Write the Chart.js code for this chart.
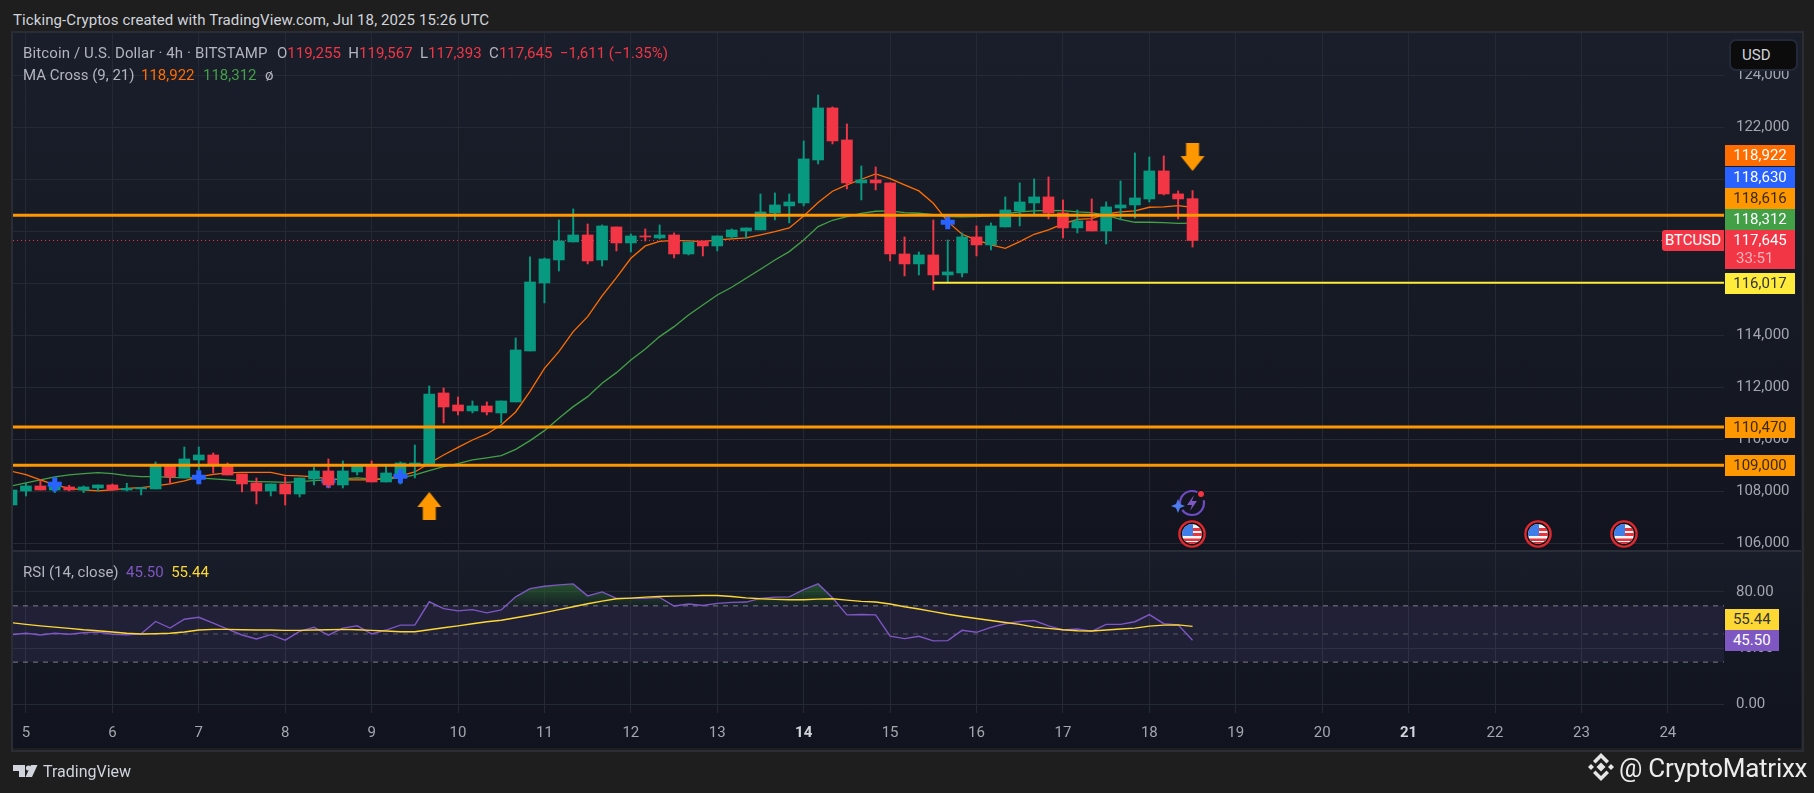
<!DOCTYPE html>
<html><head><meta charset="utf-8">
<script src="https://cdn.jsdelivr.net/npm/chart.js@4/dist/chart.umd.min.js"></script>
<style>
html,body{margin:0;padding:0;background:#1e1e1e;width:1814px;height:793px;overflow:hidden;font-family:Roboto,sans-serif}
#panel{position:absolute;left:11px;top:31px;width:1789px;height:717px;border:2px solid #2a2d35;box-sizing:content-box}
.pane{position:absolute;left:13px;width:1788px}
#pricePane{top:33px;height:518px;background:linear-gradient(#1a1e2a 0%,#171b26 40%,#12151f 100%)}
#rsiPane{top:551px;height:197px;background:linear-gradient(#191d29 0%,#141823 40%,#11141e 100%);border-top:0}
#sep{position:absolute;left:13px;top:550px;width:1788px;height:2px;background:#2a2e39}
canvas{position:absolute;left:0;top:0}
.t{position:absolute;white-space:pre;font-size:15px;line-height:20px;color:#b2b5be}
.r{color:#f23645}
.box{position:absolute;left:1725px;width:70px;height:21px;line-height:21px;font-size:15px;text-align:center;color:#fff}
#usd{position:absolute;left:1729px;top:39px;width:69px;height:32px;box-sizing:border-box;background:#0c0c0c;border:2px solid #23283a;border-radius:7px;color:#d1d4dc;font-size:15px;line-height:28px;padding-left:11px}
svg{position:absolute}
</style></head><body>
<div id="panel"></div>
<div class="pane" id="pricePane"><canvas id="priceChart" width="1788" height="518"></canvas></div>
<div class="pane" id="rsiPane"><canvas id="rsiChart" width="1788" height="197"></canvas></div>
<div id="sep"></div>

<div class="t" style="left:13px;top:10px;color:#d1d4dc;letter-spacing:.1px">Ticking-Cryptos created with TradingView.com, Jul 18, 2025 15:26 UTC</div>
<div class="t" style="left:23px;top:43px;letter-spacing:.12px">Bitcoin / U.S. Dollar · 4h · BITSTAMP</div>
<div class="t" style="left:277px;top:43px">O<span class="r">119,255</span>  H<span class="r">119,567</span>  L<span class="r">117,393</span>  C<span class="r">117,645</span>  <span class="r">−1,611 (−1.35%)</span></div>
<div class="t" style="left:23px;top:65px">MA Cross (9, 21)</div>
<div class="t" style="left:141px;top:65px;color:#ff6d00">118,922</div>
<div class="t" style="left:203px;top:65px;color:#43a047">118,312</div>
<div class="t" style="left:265px;top:65px">ø</div>
<div class="t" style="left:23px;top:562px">RSI (14, close)  <span style="color:#7e57c2">45.50</span>  <span style="color:#fdd835">55.44</span></div>

<div id="usd">USD</div>
<div class="box" style="top:145px;background:#ff6d00">118,922</div>
<div class="box" style="top:167px;background:#2962ff">118,630</div>
<div class="box" style="top:188px;background:#ff9800;color:#3a2a10">118,616</div>
<div class="box" style="top:209px;background:#43a047">118,312</div>
<div class="box" style="top:230px;height:39px;background:#f23645">117,645<div style="line-height:15px;color:#ffb3ba;font-size:15px;margin-top:0;text-align:left;padding-left:11px">33:51</div></div>
<div class="box" style="top:273px;background:#ffeb3b;color:#333">116,017</div>
<div class="box" style="top:417px;background:#ff9800;color:#3a2a10">110,470</div>
<div class="box" style="top:455px;background:#ff9800;color:#3a2a10">109,000</div>
<div class="box" style="left:1662px;top:230px;width:62px;background:#f23645;border-radius:3px 0 0 3px">BTCUSD</div>
<div class="box" style="top:609px;width:53.5px;background:#fdd835;color:#333">55.44</div>
<div class="box" style="top:630px;width:53.5px;background:#7e57c2">45.50</div>

<svg width="1814" height="793" style="left:0;top:0;pointer-events:none">
  <defs>
    <g id="flag">
      <circle r="12.6" fill="#0c0e14" stroke="#e0282e" stroke-width="2.4"/>
      <clipPath id="fc"><circle r="10"/></clipPath>
      <g clip-path="url(#fc)">
        <rect x="-10" y="-10" width="20" height="20" fill="#f5f5f5"/>
        <rect x="1" y="-6" width="10" height="3" fill="#e8323c"/>
        <rect x="1" y="-1" width="10" height="3" fill="#e8323c"/>
        <rect x="-10" y="4.500" width="20" height="2.500" fill="#e8323c"/>
        <rect x="-10" y="-10" width="11" height="12" fill="#3f7de8"/>
        <rect x="-10" y="8" width="20" height="2" fill="#d32f35"/>
      </g>
    </g>
  </defs>
  <use href="#flag" x="1192" y="534"/>
  <use href="#flag" x="1538" y="534"/>
  <use href="#flag" x="1624" y="534"/>
  <g transform="translate(1192,503)">
    <circle r="12" fill="none" stroke="#6f4bc4" stroke-width="2.2" stroke-dasharray="30 6"/>
    <path d="M2 -8 L-5 2 L0 2 L-2 8 L5 -2 L0 -2Z" fill="#7e57c2"/>
    <circle cx="9" cy="-9" r="3.6" fill="#f23645" stroke="#0c0e14" stroke-width="1"/>
    <path d="M-14 -4 L-12 1 L-7 3 L-12 5 L-14 10 L-16 5 L-21 3 L-16 1Z" fill="#4d7df0"/>
  </g>
  <g fill="#d1d4dc">
    <path d="M13 765h12v12h-6v-6h-6z"/>
    <circle cx="28.5" cy="768" r="2.6"/>
    <path d="M37.5 765l-5.5 12h-6.500l5.500-12z"/>
  </g>
  <g transform="translate(1601,767)" fill="#e6e6e6">
    <path d="M0 -4.500L4.500 0L0 4.500L-4.500 0Z"/>
    <path d="M-13 0L-10 -3L-7 0L-10 3Z"/><path d="M13 0L10 -3L7 0L10 3Z"/>
    <path d="M0 -14L8 -6L5.500 -3.500L0 -9L-5.500 -3.500L-8 -6Z"/>
    <path d="M0 14L8 6L5.500 3.500L0 9L-5.500 3.500L-8 6Z"/>
  </g>
</svg>
<div class="t" style="left:43px;top:762px;font-size:16px;color:#d1d4dc">TradingView</div>
<div class="t" style="left:1619px;top:752px;font-size:26px;line-height:32px;color:#ececec;letter-spacing:-.25px">@ CryptoMatrixx</div>

<script>
// candle times: every 4h, in day-of-month units
const candleDays=[4.833,5,5.167,5.333,5.5,5.667,5.833,6,6.167,6.333,6.5,6.667,6.833,7,7.167,7.333,7.5,7.667,7.833,8,8.167,8.333,8.5,8.667,8.833,9,9.167,9.333,9.5,9.667,9.833,10,10.167,10.333,10.5,10.667,10.833,11,11.167,11.333,11.5,11.667,11.833,12,12.167,12.333,12.5,12.667,12.833,13,13.167,13.333,13.5,13.667,13.833,14,14.167,14.333,14.5,14.667,14.833,15,15.167,15.333,15.5,15.667,15.833,16,16.167,16.333,16.5,16.667,16.833,17,17.167,17.333,17.5,17.667,17.833,18,18.167,18.333,18.5];
const opens=[107474,108013,108205,108051,108167,108051,108128,108244,108051,108090,108090,108974,108513,109205,109397,108974,108667,108320,108013,108282,107897,108474,108782,108244,108744,108960,108359,108550,108990,108990,111782,111320,111090,111282,111013,111436,113397,116013,116897,117590,117859,116897,118167,117551,117821,117744,117859,117128,117628,117436,117782,118013,118052,118706,118975,119090,120744,122744,121513,119860,119975,119860,117129,116744,117090,116321,116398,117783,117475,118167,118783,119090,119321,118706,118129,118398,118013,118898,119013,119244,120321,119437,119255];
const highs=[108060,108308,108462,108230,108231,108205,108244,108282,108308,108141,109128,108990,109705,109705,109474,109090,108667,108513,108282,108551,108513,108936,109244,109167,108990,109167,108960,109128,109782,112051,111974,111628,111474,111436,111474,113897,117013,116974,118436,118859,118282,118244,118167,117897,118090,118244,117936,117590,117628,117821,118090,118128,119436,119475,119436,121475,123244,122783,122129,120513,120475,119860,117783,117206,118437,117667,117937,118206,118321,119321,119860,120013,120090,119206,118821,119244,119129,119937,121013,120860,120898,119552,119567];
const lows=[107470,107820,108051,107949,108013,107949,108013,108051,108013,107859,108090,108282,108513,108820,108705,108628,107974,107513,107820,107474,107782,108244,108128,108128,108628,108359,108359,108282,108513,108990,110628,110936,111013,110936,110628,111436,113397,115244,116474,117590,116744,116667,117244,117205,117628,117705,116974,117090,117051,117244,117744,117744,118052,118436,118321,118975,120590,121360,119629,119206,119590,116860,116283,116321,115744,116052,116244,117052,117283,118167,118206,118667,118475,117744,117937,118013,117513,118437,118513,119129,119398,118475,117393];
const closes=[108051,108205,108051,108180,108051,108167,108244,108051,108115,108141,108990,108551,109244,109397,109038,108628,108282,108013,108282,107897,108513,108782,108244,108782,108960,108359,108705,109090,109090,111743,111243,111090,111282,111051,111474,113436,116051,116936,117628,117859,116859,118205,117551,117821,117782,117859,117128,117590,117436,117821,118051,118128,118744,119013,119129,120783,122744,121475,119860,119975,119860,117129,116744,117090,116321,116437,117783,117475,118206,118821,119129,119321,118706,118129,118398,118013,118937,119013,119283,120321,119437,119244,117645];
const maFast=[108769,108641,108436,108244,108115,108051,108013,108051,108115,108141,108205,108282,108397,108551,108654,108705,108731,108731,108731,108615,108590,108551,108474,108436,108436,108436,108487,108590,108744,109077,109397,109692,109974,110205,110551,111051,111846,112731,113372,114141,114718,115513,116218,116961,117436,117615,117654,117628,117602,117667,117705,117743,117860,117988,118129,118590,119103,119539,119783,120001,120206,120026,119783,119552,119078,118372,117885,117667,117475,117347,117603,117885,118052,118283,118462,118488,118667,118744,118783,118924,118937,118988,118922];
const maSlow=[108205,108321,108436,108551,108628,108679,108718,108679,108603,108564,108564,108538,108526,108513,108474,108436,108397,108372,108359,108346,108372,108410,108436,108474,108513,108474,108474,108513,108628,108795,108949,109064,109205,109282,109372,109615,109949,110333,110808,111256,111641,112154,112564,113051,113474,113949,114333,114782,115166,115551,115846,116192,116539,116898,117219,117667,118180,118424,118565,118693,118770,118783,118719,118693,118642,118565,118552,118565,118603,118667,118744,118783,118808,118795,118744,118719,118616,118462,118347,118347,118334,118308,118312];
const rsiValues=[49.5,50.5,49.3,50.5,49.8,50.9,51.4,49.8,49.5,50.2,58.9,54.2,60.5,61.9,57.7,53.5,49.3,46.5,49.5,45.6,51.9,54.7,49.1,54.2,55.8,50,52.8,56.3,56.3,72.9,68,66.4,67.3,65,67.1,76.4,82.3,83.9,84.9,85.6,77.1,79.9,75.3,75.3,75.3,76,69.9,71.3,70.3,71.8,72.5,72.7,75.3,76.2,76.4,81.6,85.6,75.7,63.6,63.8,63.6,48.4,46.7,48.4,45.1,45.3,52.6,51.2,54.7,57.3,58.9,59.6,55.8,52.8,53.5,51.9,56.8,56.8,58.7,63.8,57.3,56.5,45.5];
const rsiMa=[58,56.8,55.8,54.9,54,53,52.3,51.4,50.5,50,50.2,50.5,51.4,52.8,53.3,53.3,53,52.8,52.8,52.6,52.6,52.8,53,53.3,53,52.6,52.1,51.6,51.6,53,54.4,55.8,57.3,58.7,59.8,61.5,63.3,65.2,67.3,69.4,71.5,73.4,75,75.5,76.2,76.7,76.9,77.1,77.4,77.4,76.7,75.7,75,74.6,74.3,74.3,74.8,75,74.1,73.2,72.7,71.3,69.4,67.8,65.9,64,62.4,61,59.6,58.2,56.8,54.9,54,53,52.3,52.1,52.8,53.5,54.2,55.6,56.3,56.5,55.44];
const dayTicks=[5,6,7,8,9,10,11,12,13,14,15,16,17,18,19,20,21,22,23,24];
const boldDays=[14,21];
const priceTicks=[106000,108000,110000,112000,114000,116000,118000,120000,122000,124000];
const rsiTicks=[0,40,80];
const keyLevels=[109000,110470,118616];
const supportLevel=116017;
const lastPrice=117645;
const rsiBands=[30,50,70];
const crossUnder=[[8.5,108407]];
const crossOver=[[5.333,108269],[7,108538],[9.333,108577],[15.667,118346]];
const arrowUp=[[9.667,107435]];
const arrowDown=[[18.5,120857]];

const xMin=4.85,xMax=24.65,GREEN='#089981',RED='#f23645',GRID='#252934',TXT='#a3a6af';
Chart.defaults.font.family='Roboto, sans-serif';
const colors=closes.map((c,i)=>c>=opens[i]?GREEN:RED);
const span=(y,a=xMin,b=xMax)=>[{x:a,y},{x:b,y}];
const pt=a=>a.map(([x,y])=>({x,y}));
function arrowCanvas(up){
  const c=document.createElement('canvas');c.width=26;c.height=28;
  const g=c.getContext('2d');g.fillStyle='#ff9800';
  if(!up){g.translate(0,28);g.scale(1,-1);}
  g.beginPath();g.moveTo(13,0);g.lineTo(25,15);g.lineTo(19.5,15);g.lineTo(19.5,28);g.lineTo(6.5,28);g.lineTo(6.5,15);g.lineTo(1,15);g.closePath();g.fill();
  return c;
}
// pin the plot area: axes keep the requested thickness and add no label overhang
const pin=(s,prop,size)=>{s[prop]=size;s.paddingLeft=s.paddingRight=s.paddingTop=s.paddingBottom=0;};
const base={type:'line',showLine:false,pointRadius:0};
const xScale=(extra)=>Object.assign({type:'linear',min:xMin,max:xMax,offset:false,
  afterBuildTicks:s=>{s.ticks=dayTicks.map(value=>({value}));},
  grid:{color:GRID,drawTicks:false,offset:false},border:{display:false}},extra);
const layout={padding:0,autoPadding:false};

new Chart(document.getElementById('priceChart'),{
  type:'bar',
  data:{datasets:[
    {type:'line',data:maSlow.map((y,i)=>({x:candleDays[i],y})),borderColor:'#43a047',borderWidth:1.3,pointRadius:0,tension:0,order:20},
    {type:'line',data:maFast.map((y,i)=>({x:candleDays[i],y})),borderColor:'#ff6d00',borderWidth:1.3,pointRadius:0,tension:0,order:19},
    {type:'line',data:span(lastPrice,xMin,23.94),borderColor:RED,borderWidth:1,borderDash:[1,3],pointRadius:0,order:18},
    {...base,data:pt(crossUnder),pointStyle:'cross',pointRadius:7,pointBorderColor:'#2962ff',pointBorderWidth:5,order:15},
    {data:lows.map((l,i)=>({x:candleDays[i],y:[l,highs[i]]})),backgroundColor:colors,barThickness:1.3,grouped:false,order:12},
    {data:opens.map((o,i)=>({x:candleDays[i],y:[o,closes[i]]})),backgroundColor:colors,barThickness:11,grouped:false,order:11},
    {...base,data:pt(crossOver),pointStyle:'cross',pointRadius:7,pointBorderColor:'#2962ff',pointBorderWidth:5,order:8},
    ...keyLevels.map((v,i)=>({type:'line',data:span(v),borderColor:'#ff9800',borderWidth:3,pointRadius:0,order:6+i/10})),
    {type:'line',data:span(supportLevel,15.5),borderColor:'#ffeb3b',borderWidth:2,pointRadius:0,order:5},
    {...base,data:pt(arrowUp),pointStyle:arrowCanvas(true),pointRadius:14,order:3},
    {...base,data:pt(arrowDown),pointStyle:arrowCanvas(false),pointRadius:14,order:3}
  ]},
  options:{responsive:false,animation:false,devicePixelRatio:1,layout,
    plugins:{legend:{display:false},tooltip:{enabled:false}},
    scales:{
      x:xScale({ticks:{display:false},afterFit:s=>pin(s,'height',0)}),
      y:{position:'right',min:105704,max:125626,offset:false,
        afterBuildTicks:s=>{s.ticks=priceTicks.map(value=>({value}));},
        afterFit:s=>pin(s,'width',77),
        grid:{color:GRID,drawTicks:false},border:{display:false},
        ticks:{color:TXT,padding:12,font:{size:15},callback:v=>v.toLocaleString('en-US')}}
    }}
});

const rsiCanvas=document.getElementById('rsiChart');
const ob=rsiCanvas.getContext('2d').createLinearGradient(0,30,0,56);
ob.addColorStop(0,'rgba(46,125,50,.62)');ob.addColorStop(1,'rgba(46,125,50,.05)');
const isBold=c=>!!c.tick&&boldDays.includes(c.tick.value);
new Chart(rsiCanvas,{
  type:'line',
  data:{datasets:[
    {data:span(rsiBands[2],xMin,xMax),borderColor:'#7b7e88',borderWidth:1,borderDash:[5,5],pointRadius:0,fill:'+2',backgroundColor:'rgba(126,87,194,.12)',order:9},
    {data:span(rsiBands[1],xMin,xMax),borderColor:'#5a5c66',borderWidth:1,borderDash:[5,5],pointRadius:0,order:8},
    {data:span(rsiBands[0],xMin,xMax),borderColor:'#7b7e88',borderWidth:1,borderDash:[5,5],pointRadius:0,order:7},
    {data:rsiValues.map((y,i)=>({x:candleDays[i],y})),borderColor:'#7e57c2',borderWidth:1.4,pointRadius:0,tension:0,order:4,
      fill:{value:rsiBands[2],above:ob,below:'rgba(0,0,0,0)'}},
    {data:rsiMa.map((y,i)=>({x:candleDays[i],y})),borderColor:'#fdd835',borderWidth:1.4,pointRadius:0,tension:0,order:3}
  ]},
  options:{responsive:false,animation:false,devicePixelRatio:1,layout,
    plugins:{legend:{display:false},tooltip:{enabled:false}},
    scales:{
      x:xScale({afterFit:s=>pin(s,'height',35),
        ticks:{padding:11,maxRotation:0,autoSkip:false,callback:v=>String(v),
          color:c=>isBold(c)?'#d1d4dc':TXT,
          font:c=>({size:15,weight:isBold(c)?'bold':'normal'})}}),
      y:{position:'right',min:-6.18,max:109,
        afterBuildTicks:s=>{s.ticks=rsiTicks.map(value=>({value}));},
        afterFit:s=>pin(s,'width',77),
        grid:{color:GRID,drawTicks:false},border:{display:false},
        ticks:{color:TXT,padding:12,font:{size:15},callback:v=>v.toFixed(2)}}
    }}
});
</script>
</body></html>
